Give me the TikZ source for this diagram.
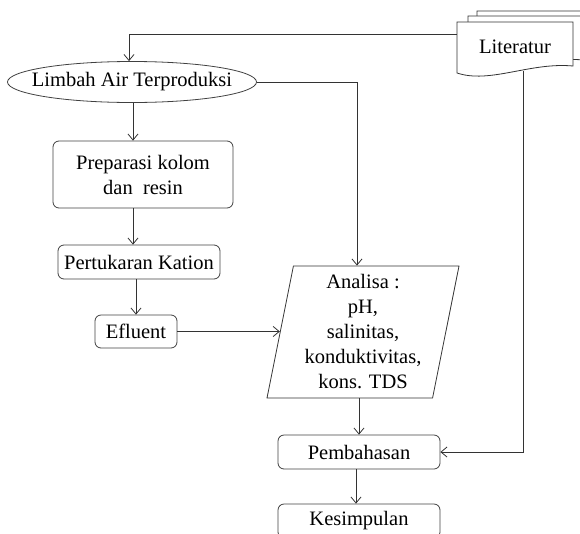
\documentclass[tikz,border=0pt]{standalone}
\usepackage{fontspec}
\setmainfont{Liberation Serif}
\usetikzlibrary{shapes.geometric,arrows.meta}
\begin{document}
\begin{tikzpicture}[x=1pt,y=-1pt,
  every node/.style={font=\fontsize{20.5}{25}\selectfont, text=black},
  box/.style={draw=black!75, rounded corners=6pt, inner sep=0pt, line width=0.8pt},
  conn/.style={draw=black!80, line width=0.8pt, -{Straight Barb[length=6pt,width=10pt]}},
  line/.style={draw=black!80, line width=0.8pt},
  docshape/.style={draw=black!80, line width=0.8pt, fill=white}]
\useasboundingbox (0,0) rectangle (580,533);
\clip (0,0) rectangle (580,533);

% Literatur: stacked documents
\foreach \dx/\dy in {20/-11, 11/-6, 0/0}{
  \draw[docshape] (457+\dx,22+\dy) -- (573+\dx,22+\dy) -- (573+\dx,66+\dy)
     .. controls (530+\dx,62+\dy) and (490+\dx,84+\dy) .. (457+\dx,73+\dy) -- cycle;
}
\node[inner sep=0pt, minimum width=116pt, minimum height=50pt] (lit) at (515,47) {Literatur};

% Ellipse
\node[ellipse, draw=black!75, line width=0.8pt, minimum width=249pt, minimum height=41pt, inner sep=0pt]
  (limbah) at (132,82) {\makebox[0pt]{Limbah Air Terproduksi}};

% Left column boxes
\node[box, minimum width=180pt, minimum height=67pt, align=center] (prep) at (143,174.5)
  {Preparasi kolom\\dan\ \ resin};
\node[box, minimum width=162pt, minimum height=34pt] (kation) at (139,262) {Pertukaran Kation};
\node[box, minimum width=82pt, minimum height=33pt] (eflu) at (136,331.5) {Efluent};

% Analisa parallelogram
\node[trapezium, trapezium left angle=77, trapezium right angle=103, trapezium stretches body,
  draw=black!80, line width=0.8pt, inner sep=0pt, minimum width=192pt, minimum height=132pt, align=center]
  (analisa) at (363,332) {Analisa :\\pH,\\salinitas,\\konduktivitas,\\kons. TDS};

% Right column boxes
\node[box, minimum width=162pt, minimum height=34pt] (pemb) at (359,452) {Pembahasan};
\node[box, minimum width=162pt, minimum height=34pt] (kesim) at (359,521) {Kesimpulan};

% Connectors
\draw[conn] ([yshift=13pt]lit.west) -| ([xshift=-3pt]limbah.north);
\draw[conn] (limbah.east) -| ([xshift=-6pt]analisa.north);
\draw[conn] ([xshift=1pt]limbah.south) -- ([xshift=1pt]limbah.south |- prep.north);
\draw[conn] ([xshift=1pt]limbah.south |- prep.south) -- ([xshift=1pt]limbah.south |- kation.north);
\draw[conn] (kation.south -| eflu.north) -- (eflu.north);
\draw[conn] (eflu.east) -- (eflu.east -| analisa.west);
\draw[conn] (analisa.south -| pemb.north) -- (pemb.north);
\draw[conn] ([xshift=-3pt]pemb.south) -- ([xshift=-3pt]kesim.north);
\coordinate (litb) at (523,71);
\draw[conn] (litb) |- (pemb.east);
\end{tikzpicture}
\end{document}
